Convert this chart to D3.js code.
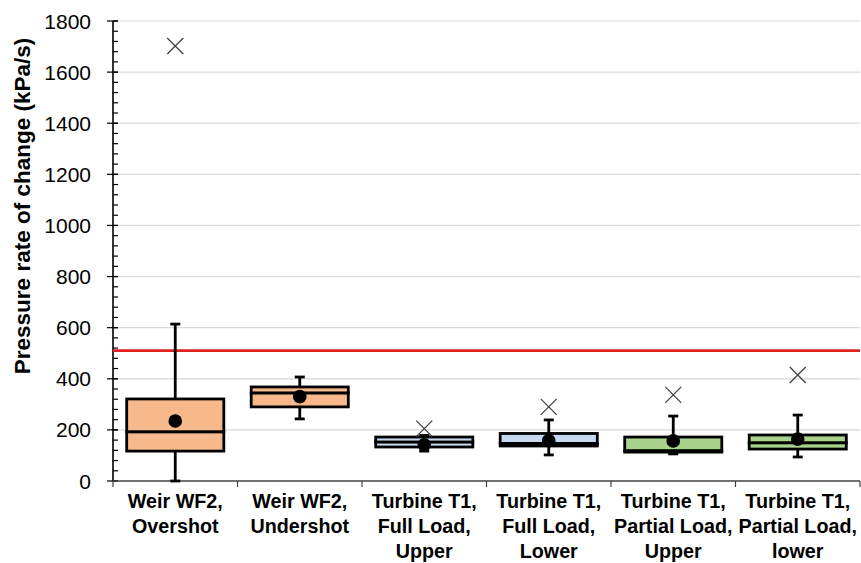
<!DOCTYPE html>
<html>
<head>
<meta charset="utf-8">
<style>
    body { margin: 0; background: #fff; }
    svg { display: block; font-family: "Liberation Sans", Arial, Helvetica, sans-serif; }
    .tick-label { font-size: 21px; fill: #000; }
    .cat-label { font-size: 21px; font-weight: bold; fill: #000; }
    .y-title { font-size: 22.5px; font-weight: bold; fill: #000; }
</style>
</head>
<body>
<svg width="861" height="563"></svg>

<script src="https://d3js.org/d3.v7.min.js"></script>
<script>
    // values
    let categories = [
        ["Weir WF2,", "Overshot"],
        ["Weir WF2,", "Undershot"],
        ["Turbine T1,", "Full Load,", "Upper"],
        ["Turbine T1,", "Full Load,", "Lower"],
        ["Turbine T1,", "Partial Load,", "Upper"],
        ["Turbine T1,", "Partial Load,", "lower"]
    ]
    let whiskerLow  = [0,   243, 117, 102, 106, 94]
    let q1          = [117, 290, 133, 137, 113, 125]
    let median      = [192, 344, 152, 147, 118, 149]
    let q3          = [321, 368, 172, 186, 172, 180]
    let whiskerHigh = [614, 407, 178, 239, 254, 258]
    let means       = [235, 330, 142, 158, 157, 164]
    let outliers    = [[1702], [], [205], [290], [337], [415]]
    let fills = ["#f7b88b", "#f7b88b", "#c7d9ef", "#c7d9ef", "#a9d28d", "#a9d28d"]
    let limitValue = 510
    let yTicks = [0, 200, 400, 600, 800, 1000, 1200, 1400, 1600, 1800]

    let plotLeft = 113, plotRight = 860, plotTop = 21, plotBottom = 481

    let svg = d3.select("svg")

    let y = d3.scaleLinear()
        .domain([0, 1800])
        .range([plotBottom, plotTop])

    let x = d3.scaleBand()
        .domain(d3.range(categories.length))
        .range([plotLeft, plotRight])
        .padding(0)

    let boxW = x.bandwidth() * 0.78
    let cx = i => x(i) + x.bandwidth() / 2

    // gridlines
    svg.append("g")
        .selectAll("line")
        .data(yTicks.filter(d => d > 0))
        .join("line")
        .attr("x1", plotLeft)
        .attr("x2", plotRight)
        .attr("y1", d => y(d))
        .attr("y2", d => y(d))
        .style("stroke", "#d9d9d9")
        .style("stroke-width", 1.2)

    // y axis: minor ticks on the right, major ticks crossing
    let minor = d3.range(0, 1801, 40)
    svg.append("g")
        .selectAll("line")
        .data(minor)
        .join("line")
        .attr("x1", plotLeft)
        .attr("x2", plotLeft + 5)
        .attr("y1", d => y(d))
        .attr("y2", d => y(d))
        .style("stroke", "#000")
        .style("stroke-width", 1.2)

    svg.append("g")
        .selectAll("line")
        .data(yTicks)
        .join("line")
        .attr("x1", plotLeft - 6)
        .attr("x2", plotLeft + 5)
        .attr("y1", d => y(d))
        .attr("y2", d => y(d))
        .style("stroke", "#000")
        .style("stroke-width", 1.2)

    svg.append("line")
        .attr("x1", plotLeft).attr("x2", plotLeft)
        .attr("y1", y(1800)).attr("y2", y(0))
        .style("stroke", "#000")
        .style("stroke-width", 1.6)

    svg.append("g")
        .selectAll("text")
        .data(yTicks)
        .join("text")
        .attr("class", "tick-label")
        .attr("x", plotLeft - 22)
        .attr("y", d => y(d) + 7.5)
        .attr("text-anchor", "end")
        .text(d => d)

    svg.append("text")
        .attr("class", "y-title")
        .attr("transform", "translate(30,206) rotate(-90)")
        .attr("text-anchor", "middle")
        .text("Pressure rate of change (kPa/s)")

    // x axis
    svg.append("line")
        .attr("x1", plotLeft).attr("x2", plotRight)
        .attr("y1", plotBottom).attr("y2", plotBottom)
        .style("stroke", "#404040")
        .style("stroke-width", 1.5)

    svg.append("g")
        .selectAll("line")
        .data(d3.range(categories.length + 1))
        .join("line")
        .attr("x1", i => i < categories.length ? x(i) : plotRight)
        .attr("x2", i => i < categories.length ? x(i) : plotRight)
        .attr("y1", plotBottom)
        .attr("y2", plotBottom + 6)
        .style("stroke", "#404040")
        .style("stroke-width", 1.2)

    // category labels, squeezed a little to look like the narrow original font
    let labels = svg.append("g")
        .selectAll("text")
        .data(categories)
        .join("text")
        .attr("class", "cat-label")
        .attr("text-anchor", "middle")
        .attr("transform", (d, i) => "translate(" + cx(i) + ",508) scale(0.94,1)")

    labels.selectAll("tspan")
        .data(d => d)
        .join("tspan")
        .attr("x", 0)
        .attr("dy", (d, j) => j === 0 ? 0 : 25)
        .text(d => d)

    // limit line
    svg.append("line")
        .attr("x1", plotLeft).attr("x2", plotRight)
        .attr("y1", y(limitValue)).attr("y2", y(limitValue))
        .style("stroke", "#e0211d")
        .style("stroke-width", 2.6)

    let boxes = svg.append("g")
        .selectAll("g")
        .data(categories)
        .join("g")

    // whiskers
    boxes.append("line")
        .attr("x1", (d, i) => cx(i)).attr("x2", (d, i) => cx(i))
        .attr("y1", (d, i) => y(whiskerLow[i]))
        .attr("y2", (d, i) => y(whiskerHigh[i]))
        .style("stroke", "#000")
        .style("stroke-width", 2.8)

    boxes.selectAll(".cap")
        .data((d, i) => [[i, whiskerLow[i]], [i, whiskerHigh[i]]])
        .join("line")
        .attr("class", "cap")
        .attr("x1", d => cx(d[0]) - 5)
        .attr("x2", d => cx(d[0]) + 5)
        .attr("y1", d => y(d[1]))
        .attr("y2", d => y(d[1]))
        .style("stroke", "#000")
        .style("stroke-width", 2.8)

    // box: upper part (median to q3) and lower part (q1 to median)
    boxes.append("rect")
        .attr("x", (d, i) => cx(i) - boxW / 2)
        .attr("width", boxW)
        .attr("y", (d, i) => y(q3[i]))
        .attr("height", (d, i) => y(median[i]) - y(q3[i]))
        .style("fill", (d, i) => fills[i])
        .style("stroke", "#000")
        .style("stroke-width", 2.8)

    boxes.append("rect")
        .attr("x", (d, i) => cx(i) - boxW / 2)
        .attr("width", boxW)
        .attr("y", (d, i) => y(median[i]))
        .attr("height", (d, i) => y(q1[i]) - y(median[i]))
        .style("fill", (d, i) => fills[i])
        .style("stroke", "#000")
        .style("stroke-width", 2.8)

    // mean
    boxes.append("circle")
        .attr("cx", (d, i) => cx(i))
        .attr("cy", (d, i) => y(means[i]))
        .attr("r", 6.8)
        .style("fill", "#000")

    // outliers as crosses
    let s = 8
    boxes.selectAll(".out")
        .data((d, i) => outliers[i].map(v => [i, v]))
        .join("path")
        .attr("class", "out")
        .attr("d", d => {
            let px = cx(d[0]), py = y(d[1])
            return "M" + (px - s) + "," + (py - s) + "L" + (px + s) + "," + (py + s) +
                "M" + (px - s) + "," + (py + s) + "L" + (px + s) + "," + (py - s)
        })
        .style("stroke", "#404040")
        .style("stroke-width", 1.3)
        .style("fill", "none")
</script>
</body>
</html>
